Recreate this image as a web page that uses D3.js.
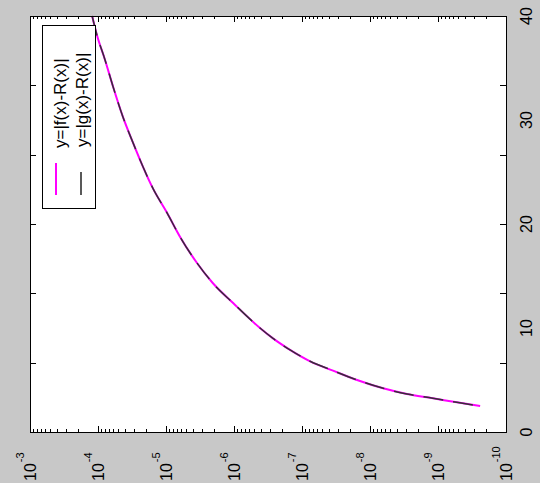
<!DOCTYPE html>
<html>
<head>
<meta charset="utf-8">
<script src="https://cdn.jsdelivr.net/npm/d3@7"></script>
<style>
  body { margin: 0; background: #c8c8c8; }
  svg { display: block; font-family: "Liberation Sans", Arial, sans-serif; }
</style>
</head>
<body>
<svg width="540" height="483"></svg>
<script>
// step sizes h (log axis) and the value on the 0..40 axis
const hValues = [1.22e-4, 1.04e-4, 7.9e-5, 6.0e-5, 4.3e-5, 3.05e-5, 2.18e-5, 1.55e-5,
  9.7e-6, 6.2e-6, 3.5e-6, 2.04e-6, 1.03e-6, 4.15e-7, 2.67e-7, 1.5e-7, 7.6e-8,
  3.5e-8, 1.55e-8, 6.4e-9, 2.86e-9, 1.19e-9, 5.3e-10, 2.4e-10];
const fValues = [40.0, 38.2, 35.8, 33.2, 30.3, 27.8, 25.5, 23.4, 21.1, 18.75, 16.25,
  14.3, 12.4, 10.0, 9.0, 7.9, 6.8, 5.9, 5.0, 4.2, 3.65, 3.25, 2.85, 2.5];
const gValues = [40.0, 38.2, 35.8, 33.2, 30.3, 27.8, 25.5, 23.4, 21.1, 18.75, 16.25,
  14.3, 12.4, 10.0, 9.0, 7.9, 6.8, 5.9, 5.0, 4.2, 3.65, 3.25, 2.85, 2.5];

const decadeExps = [-3, -4, -5, -6, -7, -8, -9, -10];
const valueLabels = [0, 10, 20, 30, 40];
const valueTicks = [0, 40 / 6, 80 / 6, 20, 160 / 6, 200 / 6, 40];
const legendNames = ["y=|f(x)-R(x)|", "y=|g(x)-R(x)|"];

const svg = d3.select("svg");
const plotLeft = 30, plotRight = 506, plotTop = 16, plotBottom = 432;

// prettier-ignore
const x = d3.scaleLog()
    .domain([1e-3, 1e-10])
    .range([plotLeft, plotRight]);

// prettier-ignore
const y = d3.scaleLinear()
    .domain([0, 40])
    .range([plotBottom, plotTop]);

svg.append("rect")
  .attr("x", plotLeft).attr("y", plotTop)
  .attr("width", plotRight - plotLeft).attr("height", plotBottom - plotTop)
  .attr("fill", "#fff");

// log ticks on bottom and top edges
const logTicks = [];
decadeExps.forEach((e) => {
  logTicks.push({ v: Math.pow(10, e), major: true });
  if (e > -10) {
    for (let k = 2; k <= 9; k++) logTicks.push({ v: k * Math.pow(10, e - 1), major: false });
  }
});

const ticks = svg.append("g").attr("stroke", "#000").attr("stroke-width", 1);
logTicks.forEach((t) => {
  const px = Math.round(x(t.v)) + 0.5;
  const len = t.major ? 6 : 3;
  ticks.append("line").attr("x1", px).attr("x2", px).attr("y1", plotBottom).attr("y2", plotBottom - len);
  ticks.append("line").attr("x1", px).attr("x2", px).attr("y1", plotTop).attr("y2", plotTop + len);
});
valueTicks.forEach((v) => {
  const py = Math.round(y(v)) + 0.5;
  ticks.append("line").attr("x1", plotRight).attr("x2", plotRight - 6).attr("y1", py).attr("y2", py);
  ticks.append("line").attr("x1", plotLeft).attr("x2", plotLeft + 6).attr("y1", py).attr("y2", py);
});

// bottom tick labels, rotated
decadeExps.forEach((e) => {
  const t = svg.append("text")
    .attr("transform", `translate(${x(Math.pow(10, e)) + 6},481) rotate(-90)`)
    .attr("font-size", 16)
    .attr("fill", "#000");
  t.append("tspan").text("10");
  t.append("tspan").attr("dy", -12).attr("dx", 1).attr("font-size", 11).text(String(e));
});

// right tick labels, rotated
valueLabels.forEach((v) => {
  svg.append("text")
    .attr("transform", `translate(532,${y(v)}) rotate(-90)`)
    .attr("text-anchor", "middle")
    .attr("font-size", 16)
    .attr("fill", "#000")
    .text(v);
});

// prettier-ignore
const line = (vals) => d3.line()
    .curve(d3.curveMonotoneX)
    .x((d, i) => x(hValues[i]))
    .y((d) => y(d))(vals);

svg.append("path")
  .attr("d", line(fValues))
  .attr("fill", "none")
  .attr("stroke", "#ff00ff")
  .attr("stroke-width", 2);

svg.append("path")
  .attr("d", line(gValues))
  .attr("fill", "none")
  .attr("stroke", "#333")
  .attr("stroke-width", 1.5)
  .attr("stroke-dasharray", "20,10");

svg.append("rect")
  .attr("x", plotLeft + 0.5).attr("y", plotTop + 0.5)
  .attr("width", plotRight - plotLeft).attr("height", plotBottom - plotTop)
  .attr("fill", "none").attr("stroke", "#000");

// legend
const legend = svg.append("g");
legend.append("rect")
  .attr("x", 42.5).attr("y", 25.5).attr("width", 53).attr("height", 183)
  .attr("fill", "#fff").attr("stroke", "#000");
legend.append("line")
  .attr("x1", 56).attr("x2", 56).attr("y1", 163).attr("y2", 195)
  .attr("stroke", "#ff00ff").attr("stroke-width", 2);
legend.append("line")
  .attr("x1", 81).attr("x2", 81).attr("y1", 172).attr("y2", 195)
  .attr("stroke", "#222").attr("stroke-width", 1.5);
legendNames.forEach((name, i) => {
  legend.append("text")
    .attr("transform", `translate(${i === 0 ? 66 : 88},${i === 0 ? 148 : 147}) rotate(-90)`)
    .attr("font-size", 17)
    .attr("fill", "#000")
    .text(name);
});
</script>
</body>
</html>
